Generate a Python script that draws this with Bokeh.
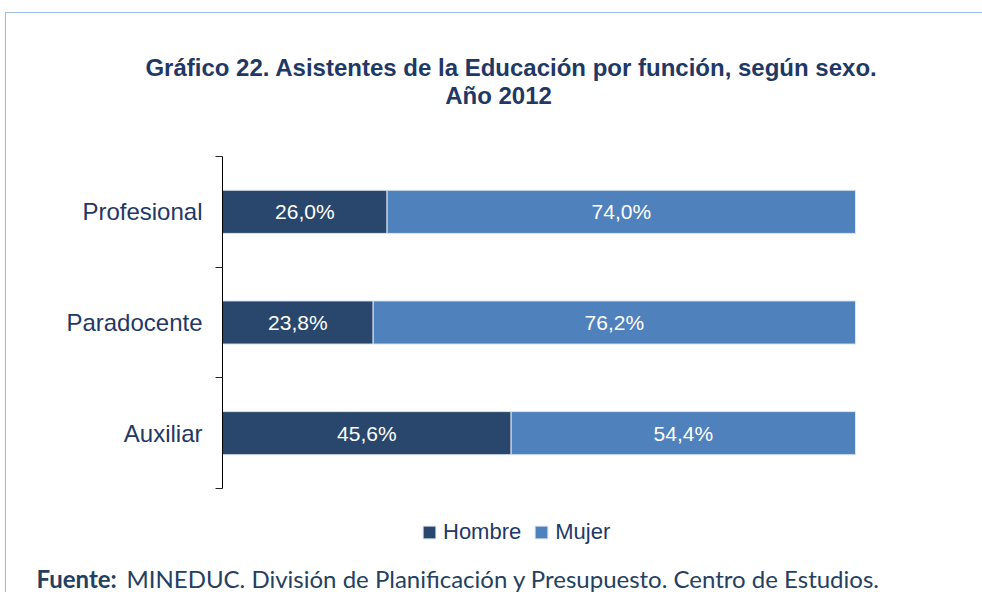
from bokeh.plotting import figure
from bokeh.layouts import column
from bokeh.models import (Range1d, FixedTicker, Label, Legend, LegendItem,
                          ColumnDataSource, InlineStyleSheet)
from bokeh.core.properties import value
from bokeh.embed import file_html
from bokeh.resources import INLINE

# ---- data ----
categories = ["Profesional", "Paradocente", "Auxiliar"]
hombre = [26.0, 23.8, 45.6]
mujer = [74.0, 76.2, 54.4]
series_names = ["Hombre", "Mujer"]
title_line1 = "Gráfico 22. Asistentes de la Educación por función, según sexo."
title_line2 = "Año 2012"
source_bold = "Fuente:"
source_text = "MINEDUC. División de Planificación y Presupuesto. Centro de Estudios."

C_H = "#29476C"
C_M = "#4F81BD"
NAVY = "#1F3864"
FOOT = "#243F60"
ARIAL = "Liberation Sans"
FRAME_CSS = """
:host::after {
  content: ""; position: absolute; left: 5px; top: %s; right: 0; bottom: 0;
  border-left: 1.5px solid #9DBDE3; %s
  pointer-events: none; z-index: 10;
}
"""

n = len(categories)
ypos = [n - i - 0.5 for i in range(n)]
fmt = lambda v: f"{v:.1f}".replace(".", ",") + "%"

src = ColumnDataSource(dict(
    y=ypos,
    h=hombre,
    m_right=[a + b for a, b in zip(hombre, mujer)],
    h_mid=[a / 2 for a in hombre],
    m_mid=[a + b / 2 for a, b in zip(hombre, mujer)],
    h_lab=[fmt(v) for v in hombre],
    m_lab=[fmt(v) for v in mujer],
))


def strip(height, css_top, css_border):
    s = figure(width=982, height=height, x_range=Range1d(0, 982),
               y_range=Range1d(0, height), x_axis_location=None,
               y_axis_location=None, toolbar_location=None,
               output_backend="svg", min_border=0)
    s.outline_line_color = None
    s.xgrid.visible = False
    s.ygrid.visible = False
    s.border_fill_color = "white"
    s.background_fill_color = "white"
    s.frame_align = False
    s.stylesheets = [InlineStyleSheet(css=FRAME_CSS % (css_top, css_border))]
    return s


# header strip with the title
hdr = strip(130, "12px", "border-top: 1.5px solid #9DBDE3;")
hdr.add_layout(Label(x=511, y=50, x_units="screen", y_units="screen",
                     text=title_line1, text_align="center", text_font=ARIAL,
                     text_font_style="bold", text_font_size="24px",
                     text_color=NAVY))
hdr.add_layout(Label(x=498, y=22, x_units="screen", y_units="screen",
                     text=title_line2, text_align="center", text_font=ARIAL,
                     text_font_style="bold", text_font_size="24px",
                     text_color=NAVY))

# main chart: frame spans from the category axis to the right edge
p = figure(width=982, height=418, x_range=Range1d(0, 120.06),
           y_range=Range1d(-0.5422, 3.2349),
           x_axis_location=None, toolbar_location=None, output_backend="svg",
           min_border_left=222, min_border_right=0, min_border_top=0,
           min_border_bottom=0)
p.outline_line_color = None
p.xgrid.visible = False
p.ygrid.visible = False
p.background_fill_color = "white"
p.border_fill_color = "white"
p.frame_align = False
p.stylesheets = [InlineStyleSheet(css=FRAME_CSS % ("0px", ""))]

ax = p.yaxis[0]
ax.bounds = (0, n)
ax.ticker = FixedTicker(ticks=ypos, minor_ticks=[float(i) for i in range(n + 1)])
ax.major_label_overrides = {y: c for y, c in zip(ypos, categories)}
ax.major_tick_line_color = None
ax.major_tick_out = 0
ax.major_tick_in = 0
ax.minor_tick_in = 0
ax.minor_tick_out = 7
ax.minor_tick_line_color = "#222222"
ax.axis_line_color = "#000000"
ax.major_label_standoff = 13
ax.major_label_text_font = ARIAL
ax.major_label_text_font_size = "24px"
ax.major_label_text_color = NAVY

rh = p.hbar(y="y", left=0, right="h", height=0.39, source=src,
            fill_color=C_H, line_color="#DCE6F2", line_width=1)
rm = p.hbar(y="y", left="h", right="m_right", height=0.39, source=src,
            fill_color=C_M, line_color="#DCE6F2", line_width=1)

p.text(x="h_mid", y="y", text="h_lab", source=src, text_color="white",
       text_font=value(ARIAL), text_font_size="21px", text_align="center",
       text_baseline="middle")
p.text(x="m_mid", y="y", text="m_lab", source=src, text_color="white",
       text_font=value(ARIAL), text_font_size="21px", text_align="center",
       text_baseline="middle")

legend = Legend(items=[LegendItem(label=series_names[0], renderers=[rh]),
                       LegendItem(label=series_names[1], renderers=[rm])],
                orientation="horizontal", location=(199, 3),
                glyph_width=16, glyph_height=16, label_standoff=6, spacing=12,
                padding=0, margin=0, border_line_color=None,
                background_fill_alpha=0,
                label_text_font=ARIAL, label_text_font_size="22px",
                label_text_color=NAVY)
p.add_layout(legend)

# footer strip with the source
ftr = strip(44, "0px", "")
ftr.add_layout(Label(x=36, y=0, x_units="screen", y_units="screen",
                     text=source_bold, text_font="Lato", text_font_style="bold",
                     text_font_size="24px", text_color=FOOT))
ftr.add_layout(Label(x=126, y=0, x_units="screen", y_units="screen",
                     text=source_text, text_font="Lato", text_font_size="24px",
                     text_color=FOOT))

layout = column(hdr, p, ftr, spacing=0)
open("out.html", "w").write(file_html(layout, INLINE))
